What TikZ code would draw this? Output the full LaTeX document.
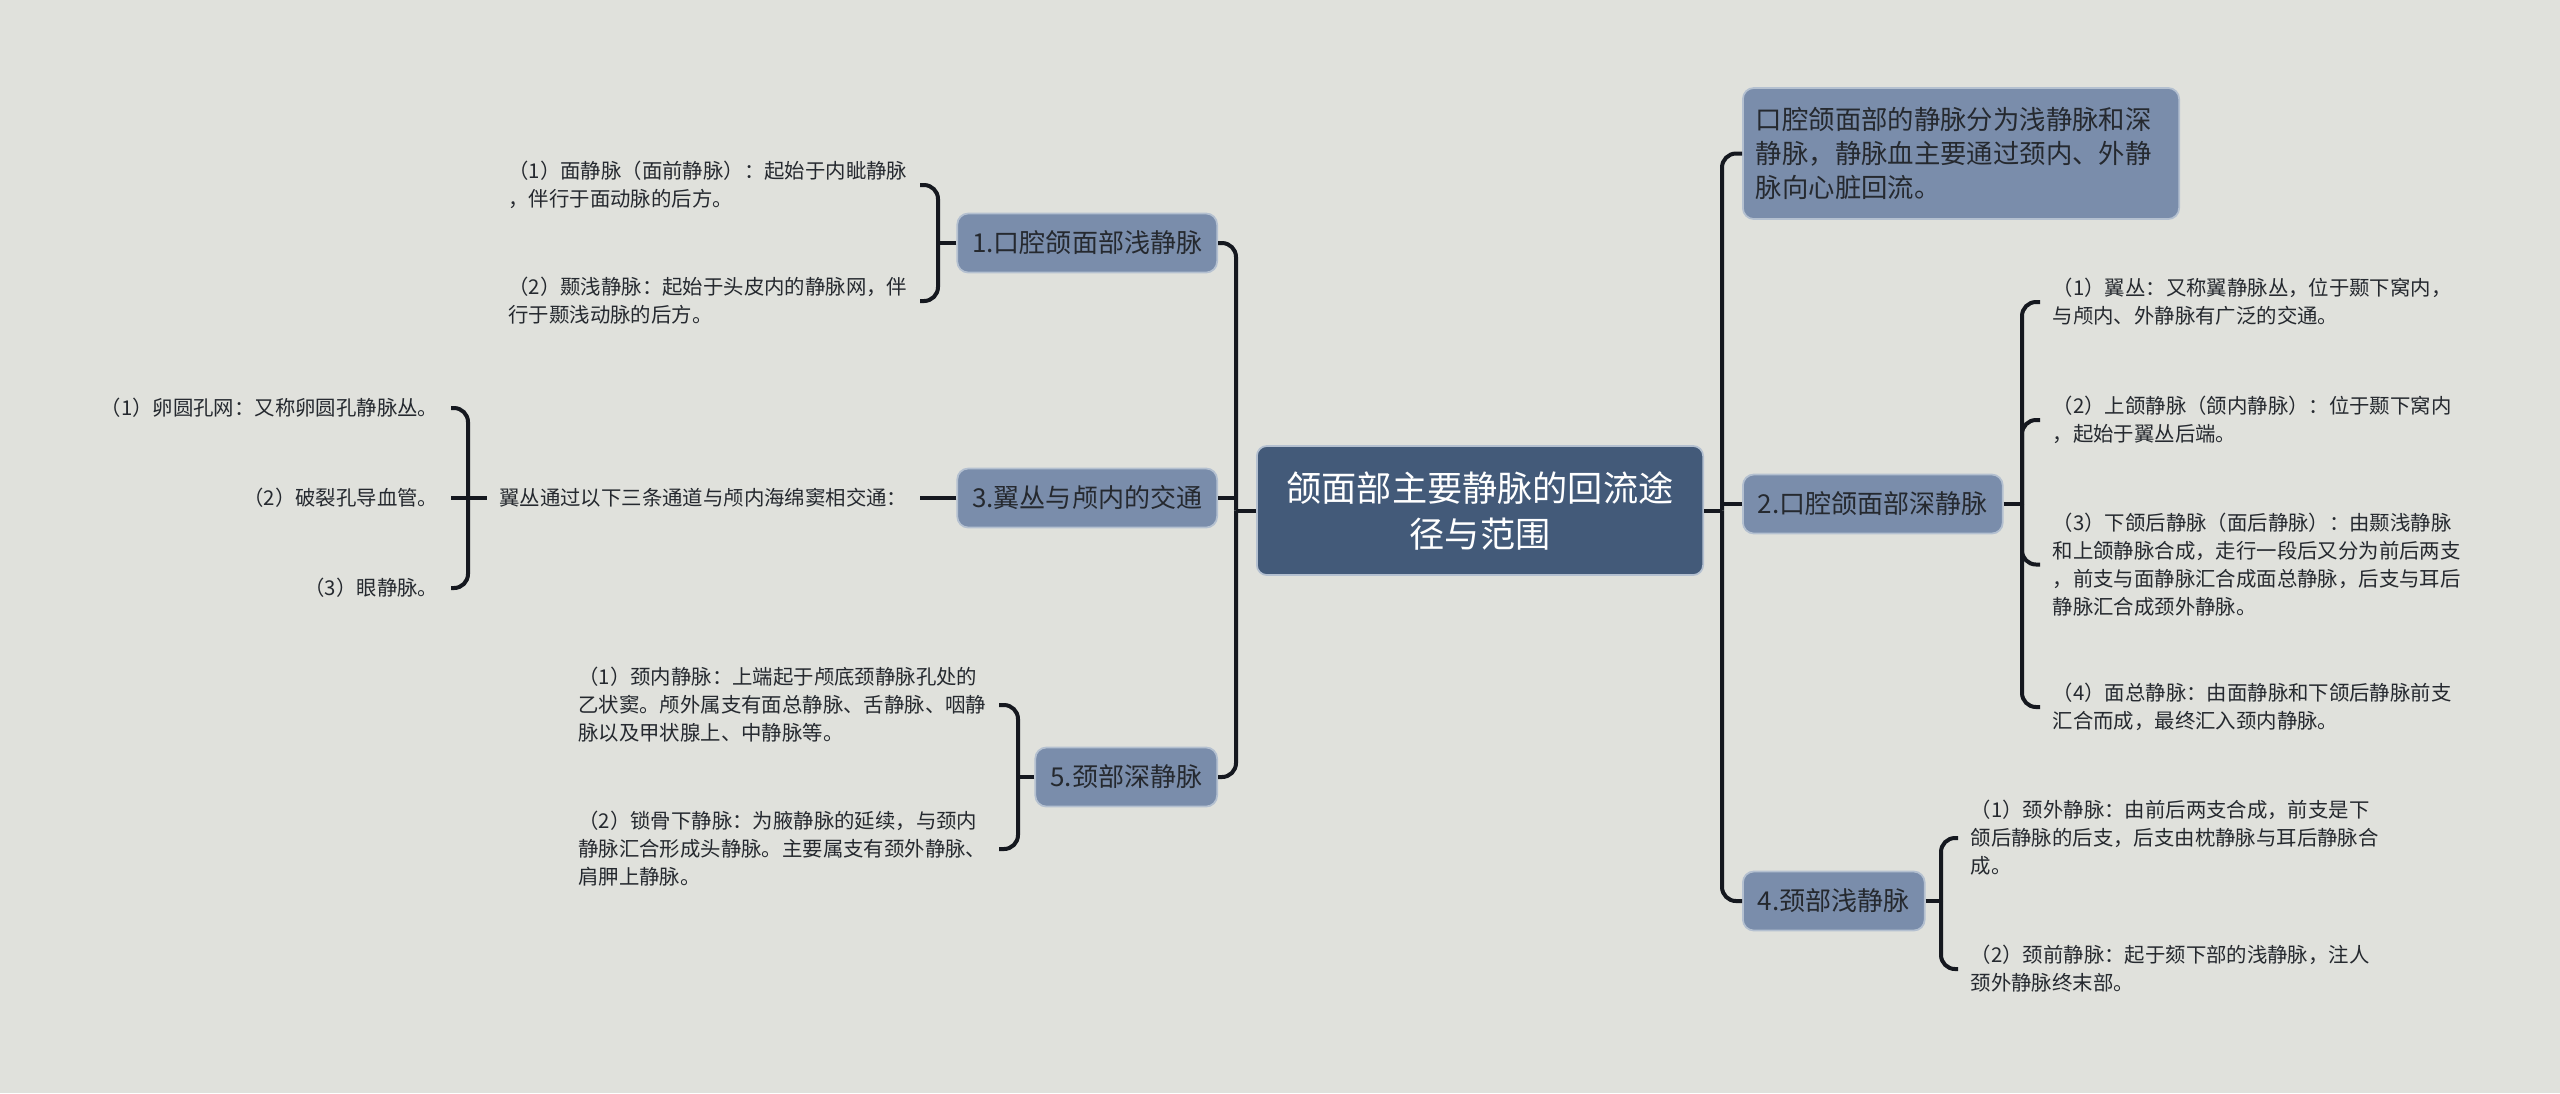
\documentclass[tikz,border=0pt]{standalone}
\usepackage{fontspec}
\setmainfont{Noto Sans CJK SC}
\definecolor{bg}{HTML}{E0E1DC}
\definecolor{rootc}{HTML}{435A79}
\definecolor{lvl}{HTML}{7A8DAB}
\definecolor{lvlb}{HTML}{B4C0D0}
\definecolor{linec}{HTML}{15181F}
\definecolor{txt}{HTML}{25292F}
\begin{document}
\begin{tikzpicture}[x=0.01cm,y=-0.01cm,
  conn/.style={draw=linec, line width=0.04cm},
  rconn/.style={conn, rounded corners=0.14cm},
  rootbox/.style={fill=rootc, draw=lvlb, line width=0.5pt, rounded corners=0.1cm, text=white, align=center, font=\fontsize{10pt}{13.1pt}\selectfont, minimum width=4.46cm, minimum height=1.29cm, inner sep=0pt},
  topic/.style={fill=lvl, draw=lvlb, line width=0.5pt, rounded corners=0.11cm, text=txt, font=\fontsize{7.4pt}{9pt}\selectfont, minimum height=0.59cm, inner xsep=0.15cm, inner ysep=0pt},
  leaf/.style={text=txt, align=left, font=\fontsize{5.8pt}{7.97pt}\selectfont, inner xsep=0.12cm, inner ysep=0.02cm},
]
\useasboundingbox (0,0) rectangle (2560,1093);
\fill[bg] (0,0) rectangle (2560,1093);

% root
\node[rootbox] (c) at (1480,510.5) {颌面部主要静脉的回流途\\径与范围};

% left topics
\node[topic, anchor=east] (n1) at (1218,243) {1.口腔颌面部浅静脉};
\node[topic, anchor=east] (n3) at (1218,498) {3.翼丛与颅内的交通};
\node[topic, anchor=east] (n5) at (1218,777) {5.颈部深静脉};

% right topics
\node[topic, anchor=west, align=left, text width=4.1cm, inner xsep=0.13cm, minimum height=1.31cm, font=\fontsize{7.5pt}{9.67pt}\selectfont] (n0) at (1742,153.5) {口腔颌面部的静脉分为浅静脉和深\\静脉，静脉血主要通过颈内、外静\\脉向心脏回流。};
\node[topic, anchor=west] (n2) at (1742,504) {2.口腔颌面部深静脉};
\node[topic, anchor=west] (n4) at (1742,901) {4.颈部浅静脉};

% left leaves
\node[leaf, anchor=east] (l1a) at (920,185) {（1）面静脉（面前静脉）：起始于内眦静脉\\，伴行于面动脉的后方。};
\node[leaf, anchor=east] (l1b) at (920,301) {（2）颞浅静脉：起始于头皮内的静脉网，伴\\行于颞浅动脉的后方。};
\node[leaf, anchor=east] (m3) at (920,498) {翼丛通过以下三条通道与颅内海绵窦相交通：};
\node[leaf, anchor=east] (l3a) at (451,408) {（1）卵圆孔网：又称卵圆孔静脉丛。};
\node[leaf, anchor=east] (l3b) at (451,498) {（2）破裂孔导血管。};
\node[leaf, anchor=east] (l3c) at (451,588) {（3）眼静脉。};
\node[leaf, anchor=east] (l5a) at (999,705) {（1）颈内静脉：上端起于颅底颈静脉孔处的\\乙状窦。颅外属支有面总静脉、舌静脉、咽静\\脉以及甲状腺上、中静脉等。};
\node[leaf, anchor=east] (l5b) at (999,849) {（2）锁骨下静脉：为腋静脉的延续，与颈内\\静脉汇合形成头静脉。主要属支有颈外静脉、\\肩胛上静脉。};

% right leaves
\node[leaf, anchor=west] (r2a) at (2040,302) {（1）翼丛：又称翼静脉丛，位于颞下窝内，\\与颅内、外静脉有广泛的交通。};
\node[leaf, anchor=west] (r2b) at (2040,420) {（2）上颌静脉（颌内静脉）：位于颞下窝内\\，起始于翼丛后端。};
\node[leaf, anchor=west] (r2c) at (2040,564.5) {（3）下颌后静脉（面后静脉）：由颞浅静脉\\和上颌静脉合成，走行一段后又分为前后两支\\，前支与面静脉汇合成面总静脉，后支与耳后\\静脉汇合成颈外静脉。};
\node[leaf, anchor=west] (r2d) at (2040,707) {（4）面总静脉：由面静脉和下颌后静脉前支\\汇合而成，最终汇入颈内静脉。};
\node[leaf, anchor=west] (r4a) at (1958,838) {（1）颈外静脉：由前后两支合成，前支是下\\颌后静脉的后支，后支由枕静脉与耳后静脉合\\成。};
\node[leaf, anchor=west] (r4b) at (1958,969) {（2）颈前静脉：起于颏下部的浅静脉，注人\\颈外静脉终末部。};

% junction coordinates
\coordinate (lt) at (1236,510.5);
\coordinate (rt) at (1722,510.5);
\coordinate (b1) at (938,243);
\coordinate (b3) at (468,498);
\coordinate (b5) at (1018,777);
\coordinate (b2) at (2022,504);
\coordinate (b4) at (1941,901);

% trunks
\draw[conn] (c.west) -- (lt);
\draw[rconn] (lt) |- (n1.east);
\draw[rconn] (lt) |- (n5.east);
\draw[conn] (n3.east) -- (n3.east -| lt);
\draw[conn] (c.east) -- (rt);
\draw[rconn] (rt) |- (n0.west);
\draw[rconn] (rt) |- (n4.west);
\draw[conn] (n2.west) -- (n2.west -| rt);

% brackets left
\draw[conn] (n1.west) -- (b1);
\draw[rconn] (b1) |- (l1a.east);
\draw[rconn] (b1) |- (l1b.east);
\draw[conn] (n3.west) -- (m3.east);
\draw[conn] (m3.west) -- (b3);
\draw[rconn] (b3) |- (l3a.east);
\draw[conn] (b3) -- (l3b.east);
\draw[rconn] (b3) |- (l3c.east);
\draw[conn] (n5.west) -- (b5);
\draw[rconn] (b5) |- (l5a.east);
\draw[rconn] (b5) |- (l5b.east);

% brackets right
\draw[conn] (n2.east) -- (b2);
\draw[rconn] (b2) |- (r2a.west);
\draw[rconn] (b2) |- (r2b.west);
\draw[rconn] (b2) |- (r2c.west);
\draw[rconn] (b2) |- (r2d.west);
\draw[conn] (n4.east) -- (b4);
\draw[rconn] (b4) |- (r4a.west);
\draw[rconn] (b4) |- (r4b.west);
\end{tikzpicture}
\end{document}
